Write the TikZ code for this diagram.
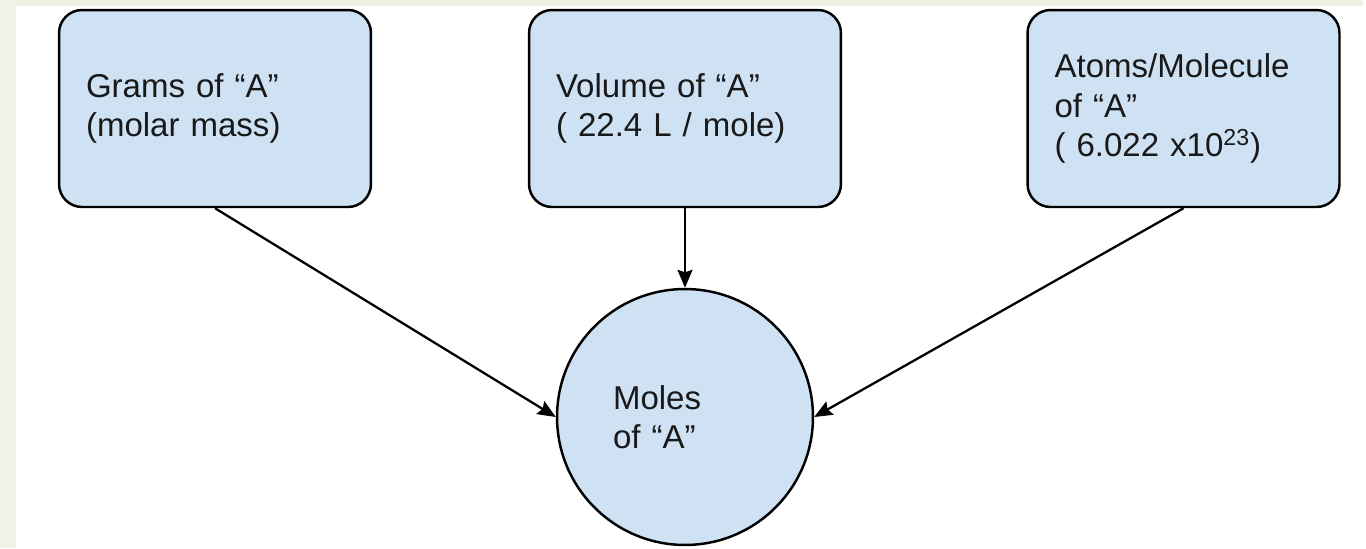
\documentclass[tikz,border=0pt]{standalone}
\usepackage{fontspec}
\setmainfont{Liberation Sans}
\usetikzlibrary{arrows.meta}
\definecolor{boxblue}{HTML}{CFE2F3}
\definecolor{stripgreen}{HTML}{EFF3E5}

\tikzset{
  qty/.style={draw=black, line width=1.4pt, fill=boxblue,
    rounded corners=0.46cm, minimum width=6.24cm, minimum height=3.94cm,
    text width=5.16cm, inner xsep=0.54cm, align=left, text=black!90,
    font=\fontsize{18.8}{22.5}\selectfont},
  molenode/.style={circle, draw=black, line width=1.4pt, fill=boxblue,
    minimum size=5.12cm, text width=2.88cm, align=left, text=black!90,
    font=\fontsize{18.8}{22.5}\selectfont},
  conv/.style={line width=1.3pt, draw=black,
    -{Stealth[length=0.36cm,width=0.3cm,inset=0.05cm]}}
}

\begin{document}
\begin{tikzpicture}[x=0.02cm,y=-0.02cm]
  \useasboundingbox (0,0) rectangle (1366,548);
  % page edge
  \fill[stripgreen] (0,0) rectangle (16,548);
  \fill[stripgreen] (16,0) rectangle (1363,6);

  \node[qty] (grams) at (215,108.5) {Grams of “A”\\(molar mass)};
  \node[qty] (volume) at (685,108.5) {Volume of “A”\\( 22.4 L / mole)};
  \node[qty] (atoms) at (1183.5,108.5) {Atoms/Molecule\\of “A”\\( 6.022 x10\textsuperscript{23})};

  \node[molenode] (moles) at (685,417) {Moles\\of “A”};

  \foreach \src/\side in {grams/west, volume/north, atoms/east}
    \draw[conv] (\src.south) -- (moles.\side);
\end{tikzpicture}
\end{document}
